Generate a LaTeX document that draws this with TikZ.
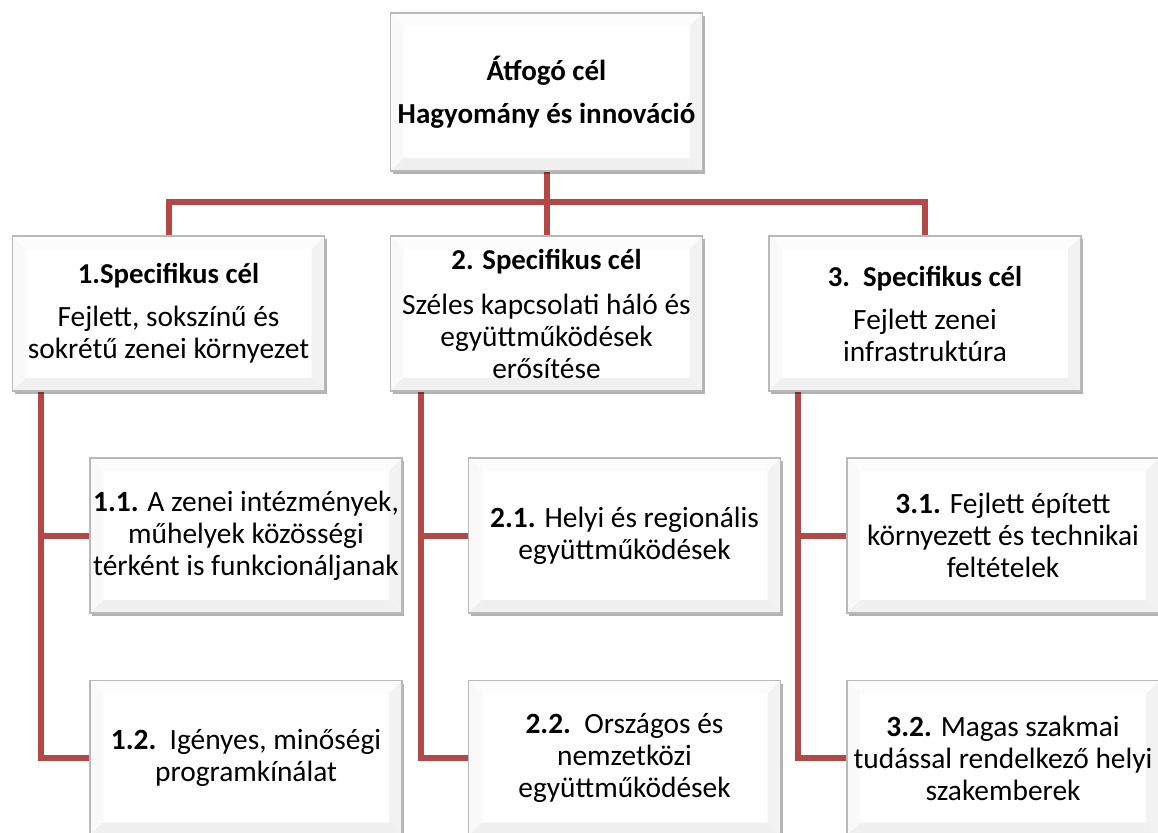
\documentclass[tikz,border=0pt]{standalone}
\usepackage{fontspec}
\setmainfont{Carlito}
\usetikzlibrary{shadows,backgrounds}
\definecolor{conncol}{RGB}{180,72,70}
\definecolor{boxedge}{RGB}{185,185,185}
\newcommand{\bevelfill}{%
  \fill[gray!2] (path picture bounding box.north west) -- (path picture bounding box.north east)
     -- ([xshift=-13pt,yshift=-13pt]path picture bounding box.north east)
     -- ([xshift=13pt,yshift=-13pt]path picture bounding box.north west) -- cycle;
  \fill[gray!5] (path picture bounding box.north west) -- (path picture bounding box.south west)
     -- ([xshift=13pt,yshift=13pt]path picture bounding box.south west)
     -- ([xshift=13pt,yshift=-13pt]path picture bounding box.north west) -- cycle;
  \fill[gray!10] (path picture bounding box.north east) -- (path picture bounding box.south east)
     -- ([xshift=-13pt,yshift=13pt]path picture bounding box.south east)
     -- ([xshift=-13pt,yshift=-13pt]path picture bounding box.north east) -- cycle;
  \fill[gray!12] (path picture bounding box.south west) -- (path picture bounding box.south east)
     -- ([xshift=-13pt,yshift=13pt]path picture bounding box.south east)
     -- ([xshift=13pt,yshift=13pt]path picture bounding box.south west) -- cycle;
}
\newcommand{\lvtitle}[1]{{\fontsize{28.8}{32}\selectfont\bfseries #1}}
\tikzset{
  goalbox/.style={draw=boxedge, line width=1.2pt, fill=white, minimum width=312pt,
    minimum height=155pt, align=center, inner sep=0pt,
    font=\fontsize{29.4}{32}\selectfont,
    drop shadow={shadow xshift=2pt, shadow yshift=-3pt, opacity=0.3, fill=black},
    path picture={\bevelfill}},
  conn/.style={draw=conncol, line width=6pt, line join=miter}
}
\begin{document}
\begin{tikzpicture}[x=1pt,y=-1pt]
\useasboundingbox (0,0) rectangle (1158,832);
\clip (0,0) rectangle (1158,832);

\node[goalbox, minimum height=158pt, font=\fontsize{29}{32}\selectfont\bfseries] (top) at (546.5,92) {Átfogó cél\\[11pt]Hagyomány és innováció};

\node[goalbox] (c1) at (168.5,313.5) {\lvtitle{1.Specifikus cél}\\[11pt]Fejlett, sokszínű és\\sokrétű zenei környezet};
\node[goalbox] (c2) at (546.5,313.5) {\lvtitle{2. Specifikus cél}\\[13pt]Széles kapcsolati háló és\\együttműködések\\erősítése};
\node[goalbox] (c3) at (925,313.5) {\lvtitle{3.\ \ Specifikus cél}\\[11pt]Fejlett zenei\\infrastruktúra};

\node[goalbox] (k11) at (246,535.5) {\textbf{1.1.} A zenei intézmények,\\műhelyek közösségi\\térként is funkcionáljanak};
\node[goalbox] (k12) at (246,758) {\textbf{1.2.}\ \ Igényes, minőségi\\programkínálat};
\node[goalbox] (k21) at (624.5,535.5) {\textbf{2.1.} Helyi és regionális\\együttműködések};
\node[goalbox] (k22) at (624.5,758) {\textbf{2.2.}\ \ Országos és\\nemzetközi\\együttműködések};
\node[goalbox] (k31) at (1003,535.5) {\textbf{3.1.} Fejlett épített\\környezett és technikai\\feltételek};
\node[goalbox] (k32) at (1003,758) {\textbf{3.2.} Magas szakmai\\tudással rendelkező helyi\\szakemberek};

\begin{scope}[on background layer]
\fill[white] (0,0) rectangle (1158,832);
\coordinate (hub) at (546.5,202);
\draw[conn] (top.south) -- (c2.north);
\draw[conn] (c1.north) |- (hub) -| (c3.north);
\draw[conn] ([xshift=29.5pt]c1.south west) |- (k11.west);
\draw[conn] ([xshift=29.5pt]c1.south west) |- (k12.west);
\draw[conn] ([xshift=31pt]c2.south west) |- (k21.west);
\draw[conn] ([xshift=31pt]c2.south west) |- (k22.west);
\draw[conn] ([xshift=30pt]c3.south west) |- (k31.west);
\draw[conn] ([xshift=30pt]c3.south west) |- (k32.west);
\end{scope}
\end{tikzpicture}
\end{document}
